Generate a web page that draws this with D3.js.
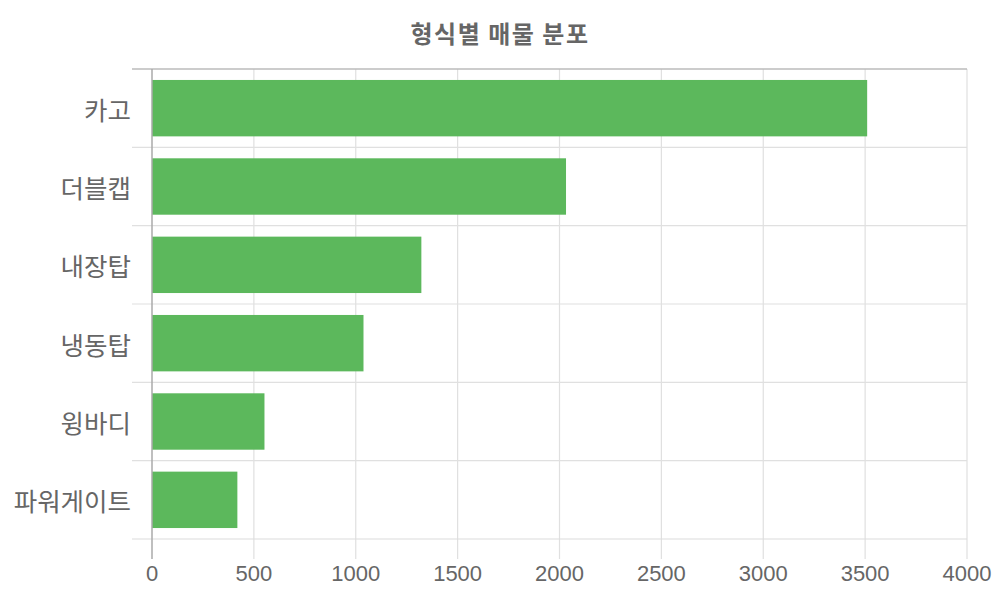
<!DOCTYPE html>
<html><head><meta charset="utf-8">
<script src="https://cdn.jsdelivr.net/npm/d3@7"></script>
<style>body{margin:0;background:#fff;} svg{display:block;}</style>
</head><body>
<svg id="c" width="1000" height="600"></svg>
<script>
const categories = ["카고", "더블캡", "내장탑", "냉동탑", "윙바디", "파워게이트"];
const values = [3510, 2032, 1322, 1038, 552, 419];
const xTicks = [0, 500, 1000, 1500, 2000, 2500, 3000, 3500, 4000];
const title = "형식별 매물 분포";

const svg = d3.select("#c");
const L = 152, R = 967, T = 69, B = 539;
const x = d3.scaleLinear().domain([0, 4000]).range([L, R]);
const y = d3.scaleBand().domain(categories).range([T, B]).paddingInner(0.28).paddingOuter(0.14);
const band = d3.scaleBand().domain(categories).range([T, B]);
const kfont = "'Noto Sans CJK KR', 'Liberation Sans', sans-serif";

// vertical gridlines
svg.append("g").selectAll("line").data(xTicks.filter(d => d > 0)).join("line")
  .attr("x1", d => x(d)).attr("x2", d => x(d))
  .attr("y1", T).attr("y2", B + 20)
  .attr("stroke", "#e0e0e0").attr("stroke-width", 1.2);

// horizontal category separators
const seps = categories.slice(1).map(c => band(c));
svg.append("g").selectAll("line").data(seps).join("line")
  .attr("x1", L - 20).attr("x2", R)
  .attr("y1", d => d).attr("y2", d => d)
  .attr("stroke", "#e0e0e0").attr("stroke-width", 1.2);
svg.append("line").attr("x1", L - 20).attr("x2", R).attr("y1", B).attr("y2", B)
  .attr("stroke", "#dcdcdc").attr("stroke-width", 1.2);
svg.append("line").attr("x1", L - 20).attr("x2", R).attr("y1", T).attr("y2", T)
  .attr("stroke", "#bbbbbb").attr("stroke-width", 1.5);

// bars
svg.append("g").selectAll("rect").data(categories).join("rect")
  .attr("x", x(0)).attr("y", d => y(d))
  .attr("width", (d, i) => x(values[i]) - x(0))
  .attr("height", y.bandwidth())
  .attr("fill", "#5cb85c");

// y axis line
svg.append("line").attr("x1", L).attr("x2", L).attr("y1", T).attr("y2", B + 20)
  .attr("stroke", "#aaaaaa").attr("stroke-width", 1.5);

// y labels
svg.append("g").selectAll("text").data(categories).join("text")
  .attr("x", L - 21).attr("y", d => band(d) + band.bandwidth() / 2)
  .attr("text-anchor", "end").attr("dominant-baseline", "central")
  .attr("font-family", kfont).attr("font-size", 25.5).attr("fill", "#666")
  .text(d => d);

// x labels
svg.append("g").selectAll("text").data(xTicks).join("text")
  .attr("x", d => x(d)).attr("y", 581)
  .attr("text-anchor", "middle")
  .attr("font-family", "'Liberation Sans', Arial, sans-serif").attr("font-size", 22).attr("fill", "#666")
  .text(d => d);

// title
svg.append("text").attr("x", 500).attr("y", 43).attr("text-anchor", "middle")
  .attr("font-family", kfont).attr("font-weight", "bold").attr("font-size", 24)
  .attr("letter-spacing", 1.5).attr("fill", "#666")
  .text(title);
</script>
</body></html>
